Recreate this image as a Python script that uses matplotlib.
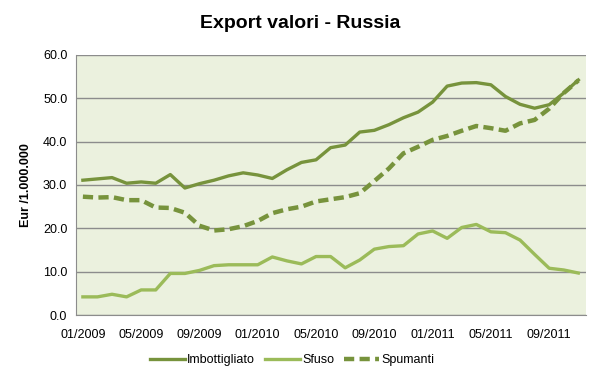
import numpy as np
import matplotlib
matplotlib.use("Agg")
import matplotlib.pyplot as plt

plt.rcParams["font.family"] = ["Liberation Sans", "DejaVu Sans"]

# monthly data, 01/2009 .. 11/2011 (Eur / 1.000.000)
months = ["01/2009", "02/2009", "03/2009", "04/2009", "05/2009", "06/2009", "07/2009",
          "08/2009", "09/2009", "10/2009", "11/2009", "12/2009", "01/2010", "02/2010",
          "03/2010", "04/2010", "05/2010", "06/2010", "07/2010", "08/2010", "09/2010",
          "10/2010", "11/2010", "12/2010", "01/2011", "02/2011", "03/2011", "04/2011",
          "05/2011", "06/2011", "07/2011", "08/2011", "09/2011", "10/2011", "11/2011"]

imbottigliato = [31.1, 31.4, 31.7, 30.4, 30.7, 30.4, 32.4, 29.3, 30.3, 31.1, 32.1, 32.8,
                 32.3, 31.5, 33.5, 35.2, 35.8, 38.6, 39.2, 42.2, 42.6, 43.9, 45.5, 46.8,
                 49.1, 52.8, 53.5, 53.6, 53.1, 50.4, 48.6, 47.7, 48.5, 51.2, 54.2]
sfuso = [4.2, 4.2, 4.8, 4.2, 5.8, 5.8, 9.6, 9.6, 10.3, 11.4, 11.6, 11.6,
         11.6, 13.4, 12.5, 11.8, 13.5, 13.5, 10.9, 12.7, 15.2, 15.8, 16.0, 18.7,
         19.4, 17.7, 20.2, 20.9, 19.2, 19.0, 17.3, 14.0, 10.8, 10.4, 9.7]
spumanti = [27.3, 27.1, 27.2, 26.5, 26.5, 24.8, 24.7, 23.6, 20.6, 19.5, 19.8, 20.5,
            21.7, 23.5, 24.4, 25.0, 26.2, 26.7, 27.2, 28.1, 30.9, 33.8, 37.3, 38.8,
            40.4, 41.3, 42.5, 43.6, 43.1, 42.5, 44.2, 45.0, 47.6, 51.2, 54.1]

dark = "#77933C"
light = "#9BBB59"

fig = plt.figure(figsize=(6, 3.81), dpi=100)
ax = fig.add_axes([0.126, 0.173, 0.85, 0.683])
ax.set_facecolor("#EBF1DE")

x = np.arange(len(months))
ax.plot(x, imbottigliato, color=dark, lw=2.4, label="Imbottigliato", solid_joinstyle="round")
ax.plot(x, sfuso, color=light, lw=2.4, label="Sfuso", solid_joinstyle="round")
ax.plot(x, spumanti, color=dark, lw=3.2, ls=(0, (2.3, 1.2)), label="Spumanti")

ax.set_xlim(-0.5, len(months) - 0.5)
ax.set_ylim(0, 60)
ax.set_yticks(np.arange(0, 61, 10))
ax.set_yticklabels(["%.1f" % v for v in np.arange(0, 61, 10)], fontsize=9)
ax.set_xticks(x[::4])
ax.set_xticklabels(months[::4], fontsize=9)
ax.tick_params(axis="y", length=0, pad=6)
ax.tick_params(axis="x", length=0, pad=10)
ax.grid(axis="y", color="#8C8C8C", lw=1)
ax.set_axisbelow(True)
for s in ["top", "right"]:
    ax.spines[s].set_visible(False)
for s in ["left", "bottom"]:
    ax.spines[s].set_color("#8C8C8C")

ax.set_ylabel("Eur /1.000.000", fontsize=9, fontweight="bold", labelpad=8)
fig.suptitle("Export valori - Russia", fontsize=14, fontweight="bold", y=0.96)

fig.legend(loc="center", bbox_to_anchor=(0.487, 0.055), ncol=3, frameon=False,
           fontsize=9, handlelength=2.8, columnspacing=0.8, handletextpad=0.2)

fig.savefig("out.png", dpi=100)
